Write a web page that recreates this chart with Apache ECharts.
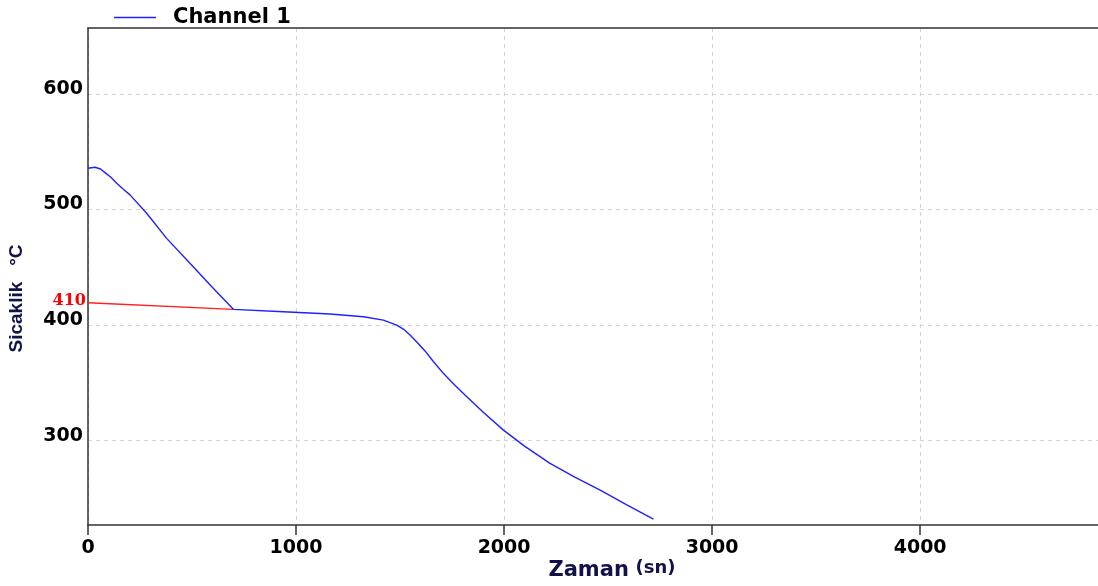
<!DOCTYPE html>
<html>
<head>
<meta charset="utf-8">
<script src="https://cdn.jsdelivr.net/npm/echarts@6/dist/echarts.min.js"></script>
<style>html,body{margin:0;padding:0;background:#fff}#c{width:1098px;height:586px}</style>
</head>
<body>
<div id="c"></div>
<script>
var seriesName = 'Channel 1';
var timeSec = [0, 34, 60, 82, 110, 138, 170, 202, 282, 378, 490, 602, 699, 939, 1163, 1324, 1420, 1484, 1520, 1548, 1585, 1620, 1660, 1708, 1760, 1821, 1900, 1997, 2100, 2221, 2340, 2462, 2590, 2718];
var tempC = [535.7, 536.5, 535, 531.9, 527.8, 522.7, 517.5, 512.6, 496.7, 475, 453.4, 431.8, 413.6, 411.5, 409.5, 407.2, 404.3, 400, 396, 391.3, 384.5, 377.6, 368.5, 358.2, 348.5, 338, 324.5, 309.1, 295, 280.3, 268.5, 257.1, 244.5, 232];
var tangentTime = [0, 699];
var tangentTemp = [419.3, 413.6];
var tangentLabel = '410';
var yTicks = [300, 400, 500, 600];

var blueData = timeSec.map(function (t, i) { return [t, tempC[i]]; });
var redData = tangentTime.map(function (t, i) { return [t, tangentTemp[i]]; });

var chart = echarts.init(document.getElementById('c'));
chart.setOption({
  animation: false,
  backgroundColor: '#fff',
  grid: { left: 88, right: 0, top: 28, bottom: 61, containLabel: false, outerBoundsMode: 'none' },
  legend: {
    data: [{ name: seriesName, icon: 'rect' }],
    left: 109, top: 2,
    itemWidth: 42, itemHeight: 1.3,
    textStyle: { fontFamily: 'DejaVu Sans', fontWeight: 'bold', fontSize: 21, color: '#000', padding: [0, 0, 0, 12] }
  },
  xAxis: [{
    type: 'value', min: 0, max: 4855, interval: 1000,
    name: '{a|Zaman}  {b|(sn)}', nameLocation: 'middle', nameGap: 34, nameMoveOverlap: false,
    nameTextStyle: {
      padding: [0, 0, 0, 38],
      rich: {
        a: { fontFamily: 'DejaVu Sans', fontWeight: 'bold', fontSize: 21, color: '#121248' },
        b: { fontFamily: 'DejaVu Sans', fontWeight: 'bold', fontSize: 18, color: '#121248', padding: [0, 0, 5, 0] }
      }
    },
    axisLine: { lineStyle: { color: '#333', width: 1.5 } },
    axisTick: { show: true, length: 10, lineStyle: { color: '#333', width: 1.5 } },
    axisLabel: {
      margin: 14, color: '#000', fontFamily: 'DejaVu Sans', fontWeight: 'bold', fontSize: 19, showMaxLabel: false,
      formatter: function (v) { return String(v); }
    },
    splitLine: { show: true, lineStyle: { color: '#d4d4d4', type: [4, 4], width: 1 } }
  }, {
    type: 'value', position: 'top', min: 0, max: 4855,
    axisLine: { show: true, onZero: false, lineStyle: { color: '#333', width: 1.5 } },
    axisTick: { show: false }, axisLabel: { show: false }, splitLine: { show: false }
  }],
  yAxis: {
    type: 'value', min: 227, max: 657,
    name: 'Sicaklik   °C', nameLocation: 'middle', nameRotate: 90, nameGap: 62,
    nameTextStyle: { fontFamily: 'Liberation Sans', fontWeight: 'bold', fontSize: 19, color: '#121248', padding: [0, 44, 0, 0] },
    axisLine: { show: true, lineStyle: { color: '#333', width: 1.5 } },
    axisTick: { show: false, customValues: yTicks },
    axisLabel: {
      customValues: yTicks, margin: 5, color: '#000', fontFamily: 'DejaVu Sans', fontWeight: 'bold', fontSize: 19,
      verticalAlign: 'bottom', lineHeight: 10,
      formatter: function (v) { return String(v); }
    },
    splitLine: { show: true, lineStyle: { color: '#d4d4d4', type: [4, 4], width: 1 } }
  },
  series: [{
    name: seriesName, type: 'line', data: blueData, symbol: 'none',
    lineStyle: { color: '#2020ff', width: 1.4 }, itemStyle: { color: '#2020ff' }, z: 3
  }, {
    name: 'tangent', type: 'line', data: redData, symbol: 'none',
    lineStyle: { color: '#ff2020', width: 1.4 }, z: 2,
    markPoint: {
      symbol: 'circle', symbolSize: 0,
      data: [{ coord: redData[0], value: tangentLabel }],
      label: { show: true, position: 'left', distance: 2, offset: [0, -2], formatter: tangentLabel, color: '#ff0000', fontFamily: 'DejaVu Serif', fontWeight: 'bold', fontSize: 16 }
    }
  }]
});
</script>
</body>
</html>
